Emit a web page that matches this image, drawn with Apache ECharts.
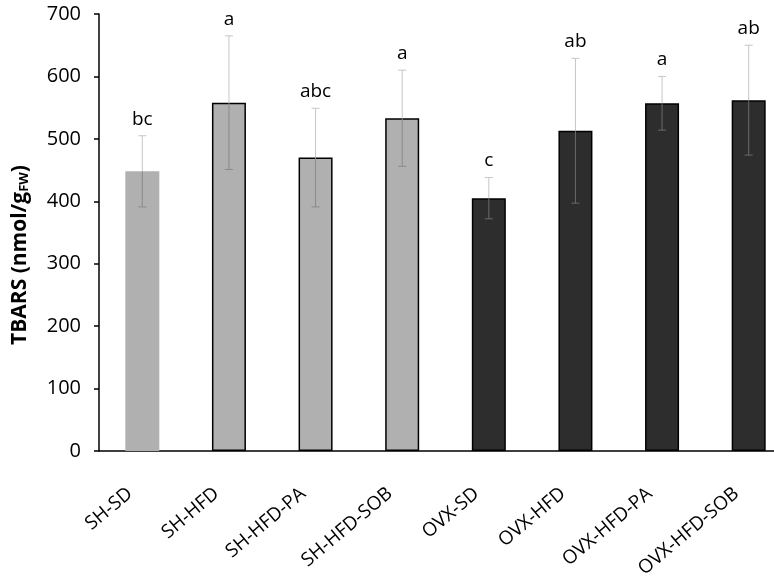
<!DOCTYPE html>
<html>
<head>
<meta charset="utf-8">
<script src="https://cdn.jsdelivr.net/npm/echarts@6/dist/echarts.min.js"></script>
<style>
  html, body { margin: 0; padding: 0; background: #fff; }
  #chart { width: 774px; height: 578px; }
</style>
</head>
<body>
<div id="chart"></div>
<script>
var groupNames = ['SH-SD', 'SH-HFD', 'SH-HFD-PA', 'SH-HFD-SOB', 'OVX-SD', 'OVX-HFD', 'OVX-HFD-PA', 'OVX-HFD-SOB'];
var tbarsMean = [448, 558, 470, 533, 405, 513, 557, 562];
var tbarsErr = [57, 107, 79, 77, 33, 116, 43, 88];
var sigLetters = ['bc', 'a', 'abc', 'a', 'c', 'ab', 'a', 'ab'];
var yTicks = [0, 100, 200, 300, 400, 500, 600, 700];

var fontName = '"Open Sans", "Noto Sans", sans-serif';

function isOvx(i) {
    return groupNames[i].indexOf('OVX') === 0;
}

var barData = tbarsMean.map(function (v, i) {
    return {
        value: v,
        itemStyle: {
            color: isOvx(i) ? '#2d2d2d' : '#b0b0b0',
            borderColor: '#000',
            borderWidth: i === 0 ? 0 : 1.5
        }
    };
});

var errData = tbarsMean.map(function (v, i) {
    return [i, v, tbarsErr[i]];
});

var chart = echarts.init(document.getElementById('chart'));

chart.setOption({
    backgroundColor: '#fff',
    animation: false,
    grid: {
        left: 99,
        right: -18,
        top: 14,
        bottom: 127,
        containLabel: false,
        outerBoundsMode: 'none'
    },
    xAxis: {
        type: 'category',
        data: groupNames,
        axisLine: { lineStyle: { color: '#000', width: 1.5 } },
        axisTick: { length: 5, lineStyle: { color: '#000', width: 1.5 } },
        axisLabel: {
            rotate: 40,
            margin: 30,
            padding: [0, 16, 0, 0],
            color: '#000',
            fontSize: 19,
            fontFamily: fontName,
            interval: 0
        }
    },
    yAxis: {
        type: 'value',
        min: yTicks[0],
        max: yTicks[yTicks.length - 1],
        interval: 100,
        splitLine: { show: false },
        axisLine: { show: true, lineStyle: { color: '#000', width: 1.5 } },
        axisTick: { show: true, length: 5, lineStyle: { color: '#000', width: 1.5 } },
        axisLabel: {
            margin: 18,
            color: '#000',
            fontSize: 20,
            fontFamily: fontName
        }
    },
    graphic: [{
        type: 'text',
        x: 20,
        y: 255,
        rotation: Math.PI / 2,
        style: {
            text: 'TBARS (nmol/g{sub|FW})',
            fill: '#000',
            font: 'bold 21px ' + fontName,
            align: 'center',
            verticalAlign: 'middle',
            rich: {
                sub: {
                    fontSize: 13,
                    fontWeight: 'bold',
                    fontFamily: fontName,
                    padding: [8, 0, 0, 0]
                }
            }
        }
    }],
    series: [{
        name: 'TBARS',
        type: 'bar',
        barWidth: 34,
        data: barData
    }, {
        name: 'err',
        type: 'custom',
        data: errData,
        z: 5,
        renderItem: function (params, api) {
            var i = api.value(0);
            var m = api.value(1);
            var e = api.value(2);
            var top = api.coord([i, m + e]);
            var mid = api.coord([i, m]);
            var bot = api.coord([i, m - e]);
            var x = top[0];
            var inner = isOvx(i) ? '#6a6a6a' : '#8a8a8a';
            var light = '#c6c6c6';
            return {
                type: 'group',
                children: [
                    { type: 'line', shape: { x1: x, y1: top[1], x2: x, y2: mid[1] }, style: { stroke: light, lineWidth: 1 } },
                    { type: 'line', shape: { x1: x - 4, y1: top[1], x2: x + 4, y2: top[1] }, style: { stroke: light, lineWidth: 1 } },
                    { type: 'line', shape: { x1: x, y1: mid[1], x2: x, y2: bot[1] }, style: { stroke: inner, lineWidth: 1 } },
                    { type: 'line', shape: { x1: x - 4, y1: bot[1], x2: x + 4, y2: bot[1] }, style: { stroke: inner, lineWidth: 1 } },
                    {
                        type: 'text',
                        x: x,
                        y: top[1] - 7,
                        style: {
                            text: sigLetters[i],
                            fill: '#000',
                            font: '19px ' + fontName,
                            align: 'center',
                            verticalAlign: 'bottom'
                        }
                    }
                ]
            };
        }
    }]
});
</script>
</body>
</html>
